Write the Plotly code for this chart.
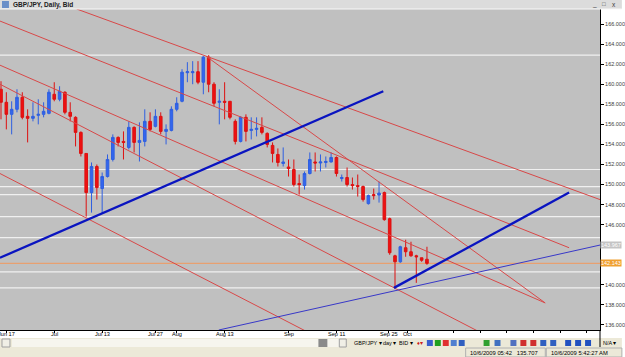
import plotly.graph_objects as go

# ---------------- data ----------------
opens = [159.5,158.2,157.0,157.5,158.7,156.8,156.6,156.9,157.0,157.1,
         159.0,158.5,159.2,157.2,156.7,155.2,153.1,149.2,151.8,149.6,
         150.8,152.5,154.7,154.3,153.7,155.7,154.2,154.3,156.3,155.8,
         156.8,155.3,155.4,157.5,158.3,161.15,161.15,161.25,160.2,162.7,
         160.0,158.2,158.3,158.3,156.3,154.3,156.7,155.4,155.5,155.7,
         155.1,153.9,153.0,152.1,151.75,151.5,150.1,149.9,151.1,152.25,
         152.15,152.2,152.25,152.7,150.6,150.7,150.0,149.9,149.8,148.1,
         149.0,148.95,149.2,146.6,142.9,142.3,143.7,143.3,142.9,142.7,
         142.55]
highs = [160.3,159.2,158.3,159.5,159.2,157.5,158.2,158.5,158.2,159.5,
         160.2,159.8,159.3,158.2,156.8,155.3,153.1,152.2,152.0,151.2,
         153.0,155.0,154.8,155.3,156.3,155.8,156.2,157.5,157.2,157.5,
         157.2,156.0,157.8,158.7,161.5,162.2,162.3,162.3,162.8,162.9,
         160.2,159.5,160.2,158.3,156.5,156.8,157.0,156.7,156.7,156.7,
         155.2,154.2,153.6,153.7,152.5,152.5,151.0,151.3,153.2,153.2,
         153.0,152.8,153.2,152.8,151.0,151.7,150.7,151.0,149.9,149.0,
         149.6,150.3,149.3,146.7,143.0,143.9,144.5,144.3,143.0,142.7,
         143.8]
lows = [156.5,155.5,155.0,157.2,156.5,154.2,156.3,156.0,156.7,157.0,
        158.3,158.3,157.0,156.3,153.8,152.8,146.8,147.2,148.5,147.1,
        150.7,152.3,153.8,152.5,153.5,153.2,152.3,153.8,155.3,155.7,
        155.0,154.0,155.3,157.3,158.2,160.2,160.0,160.0,159.0,159.2,
        157.8,156.0,156.5,156.5,154.0,154.2,154.3,154.5,154.8,155.0,
        153.7,152.2,151.8,151.8,150.8,149.8,149.0,149.5,151.0,151.3,
        151.3,151.7,152.2,150.8,150.3,149.8,149.5,148.8,148.3,148.0,
        148.5,148.2,146.4,143.0,139.75,142.2,142.8,142.8,140.2,142.3,
        142.0]
closes = [158.2,157.0,157.5,158.7,156.7,156.6,156.8,157.0,157.3,159.2,
          158.5,159.3,157.2,156.8,155.2,153.1,149.2,151.8,149.7,150.8,
          152.5,154.7,154.2,154.2,155.7,154.2,154.4,156.3,155.5,156.8,
          155.3,155.5,157.5,158.1,161.2,161.25,161.25,160.2,162.7,160.0,
          158.1,158.3,158.2,156.7,154.3,156.7,155.3,155.5,155.6,155.2,
          154.0,153.1,152.2,152.25,151.6,150.0,150.0,151.1,152.5,152.15,
          152.25,152.3,152.7,151.1,150.7,150.0,149.9,149.8,148.5,148.9,
          148.9,149.15,146.5,143.2,142.3,143.8,143.3,142.9,142.8,142.45,
          142.143]

tick_idx = [1, 10, 19, 29, 33, 42, 54, 63, 72.8, 76.3]
tick_text = ["Jun 17", "Jul", "Jul 13", "Jul 27", "Aug", "Aug 13", "Sep", "Sep 11", "Sep 25", "Oct"]
future_ticks = [85, 90, 95, 100, 105, 110]
price_ticks = list(range(136, 168, 2))
hidden_price_ticks = [142, 144]   # covered by the price boxes in the original

# drawn lines: (x0 index, price0, x1 index, price1)
red_lines = [
    (14.2, 167.5, 112.5, 148.5),
    (-0.2, 166.3, 106.7, 143.7),
    (-0.2, 151.1, 70.0, 131.9),
    (38.5, 162.8, 102.2, 138.2),
    (-0.2, 161.9, 102.2, 138.2),
    (-0.2, 160.0, 95.0, 133.9),
]
thick_blue_lines = [
    (-0.2, 142.7, 71.8, 159.3),
    (73.8, 139.7, 106.7, 149.2),
]
thin_blue_lines = [
    (40.9, 135.5, 112.5, 143.967),
]
white_levels = [162.9, 151.5, 149.8, 149.0, 146.8, 144.7, 141.3, 139.7]
last_price = 142.143
line_price = 143.967

# ---------------- figure ----------------
W, H = 625, 357
ML, MR, MT, MB = 0, 22, 9, 27
PW = W - ML - MR
PH = H - MT - MB

def px(x):
    return (x - ML) / PW

def py(y):
    return (H - MB - y) / PH

fig = go.Figure()

idx = list(range(len(opens)))
fig.add_trace(go.Candlestick(
    x=idx, open=opens, high=highs, low=lows, close=closes,
    increasing=dict(line=dict(color="#2f5fe0", width=1), fillcolor="#3366ee"),
    decreasing=dict(line=dict(color="#dd1111", width=1), fillcolor="#ee1111"),
    whiskerwidth=0, hoverinfo="skip", showlegend=False,
))

def add_lines(lines, color, width):
    for (x0, y0, x1, y1) in lines:
        fig.add_trace(go.Scatter(x=[x0, x1], y=[y0, y1], mode="lines",
                                 line=dict(color=color, width=width),
                                 hoverinfo="skip", showlegend=False))

add_lines(red_lines, "#d84848", 1)
add_lines(thin_blue_lines, "#3838c8", 1)
add_lines(thick_blue_lines, "#0a14c0", 2.3)

shapes = []
for lv in white_levels:
    shapes.append(dict(type="line", xref="paper", yref="y", x0=0, x1=1, y0=lv, y1=lv,
                       line=dict(color="#f0f0f0", width=1.2), layer="below"))
shapes.append(dict(type="line", xref="paper", yref="y", x0=0, x1=1, y0=last_price, y1=last_price,
                   line=dict(color="#e8a070", width=1.2), layer="below"))

def rect(x0, y0, x1, y1, fill, line=None, lw=0):
    shapes.append(dict(type="rect", xref="paper", yref="paper",
                       x0=px(x0), x1=px(x1), y0=py(y1), y1=py(y0),
                       fillcolor=fill, line=dict(color=line or fill, width=lw), layer="above"))

# title bar
rect(0, 0, W, MT, "#dcdcdc")
shapes.append(dict(type="line", xref="paper", yref="paper", x0=px(0), x1=px(W), y0=py(MT), y1=py(MT),
                   line=dict(color="#f8f8f8", width=1)))
# bottom bars
rect(0, 338, W, H, "#ece9d8")
rect(12, 339, 348, 347, "#f6f5ee")
rect(2, 339, 10, 347, "#f0efe6", "#a0a0a0", 1)
rect(320, 339, 329, 347, "#8a8a8a")
rect(341, 339, 348, 347, "#f0efe6", "#a0a0a0", 1)
rect(468, 348, 548, H, "#ece9d8", "#b0b0b0", 1)
rect(549, 348, W, H, "#ece9d8", "#b0b0b0", 1)
# toolbar icons
for (x0, c) in [(429, "#3a5fcd"), (437, "#20a020"), (445, "#e03030"), (453, "#5080d0"), (461, "#3060c0"),
                (486, "#30a030"), (497, "#4070c0"), (513, "#5070c0"), (523, "#d03030"), (533, "#d03030"),
                (543, "#3060c0"), (553, "#3060c0"), (568, "#2050c0"), (578, "#2050c0"), (588, "#2050c0")]:
    rect(x0, 340, x0 + 6, 346, c)
# right axis line extension
shapes.append(dict(type="line", xref="paper", yref="paper", x0=1, x1=1, y0=py(H - MB), y1=py(347),
                   line=dict(color="#000000", width=1)))

annotations = []
def text(x, y, s, size=6.5, color="#000000", anchor="left", bold=False):
    annotations.append(dict(xref="paper", yref="paper", x=px(x), y=py(y), text=("<b>%s</b>" % s if bold else s),
                            showarrow=False, xanchor=anchor, yanchor="middle",
                            font=dict(size=size, color=color, family="Liberation Sans")))

text(11, 4.5, "GBP/JPY, Daily, Bid", 6.5, "#202020", bold=True)
text(593, 4, "_", 6.5, "#404040")
text(603, 4, "□", 6, "#404040")
text(613, 4, "x", 6.5, "#404040")
rect(2, 1, 9, 8, "#6a8fc8")
text(354, 343, "GBP/JPY ▾", 5.5)
text(383, 343, "day ▾", 5.5)
text(399, 343, "BID ▾", 5.5)
text(417, 343, "♦▾", 5.5, "#d02020")
text(604, 343, "N/A ▾", 5.5)
text(470, 352.5, "10/6/2009 05:42   135.707", 5.8)
text(552, 352.5, "10/6/2009 5:42:27 AM", 5.8)

# x-axis labels (placed tight under the axis as in the original)
for i, t in zip(tick_idx, tick_text):
    annotations.append(dict(xref="x", yref="paper", x=i, y=py(333.5), text=t, showarrow=False,
                            xanchor="center", yanchor="middle",
                            font=dict(size=5.6, color="#000000", family="Liberation Sans")))

annotations.append(dict(xref="paper", yref="y", x=1, y=line_price, text="%.3f" % line_price,
                        showarrow=False, xanchor="left", yanchor="middle", bgcolor="#c4c4c4",
                        font=dict(size=5.5, color="#ffffff", family="Liberation Sans"), borderpad=0))
annotations.append(dict(xref="paper", yref="y", x=1, y=last_price, text="%.3f" % last_price,
                        showarrow=False, xanchor="left", yanchor="middle", bgcolor="#f0a030",
                        font=dict(size=5.5, color="#ffffff", family="Liberation Sans"), borderpad=0))

price_text = ["" if v in hidden_price_ticks else "%.3f" % v for v in price_ticks]

fig.update_layout(
    width=W, height=H, margin=dict(l=ML, r=MR, t=MT, b=MB, pad=0),
    paper_bgcolor="#ffffff", plot_bgcolor="#c0c0c0",
    showlegend=False, shapes=shapes, annotations=annotations,
    xaxis=dict(range=[-0.19, 112.5], tickmode="array", tickvals=tick_idx, showticklabels=False,
               ticks="outside", ticklen=2, tickcolor="#000000", showline=True, linecolor="#000000",
               linewidth=1, showgrid=False, zeroline=False, rangeslider=dict(visible=False),
               minor=dict(tickmode="array", tickvals=future_ticks, ticks="outside", ticklen=2,
                          tickcolor="#000000", showgrid=False)),
    yaxis=dict(side="right", range=[135.5, 167.5], tickmode="array", tickvals=price_ticks,
               ticktext=price_text, ticks="outside", ticklen=3, tickcolor="#000000", showline=True,
               linecolor="#000000", linewidth=1, showgrid=False, zeroline=False,
               tickfont=dict(size=5.5, color="#404040", family="Liberation Sans")),
)

fig.write_html("out.html")
